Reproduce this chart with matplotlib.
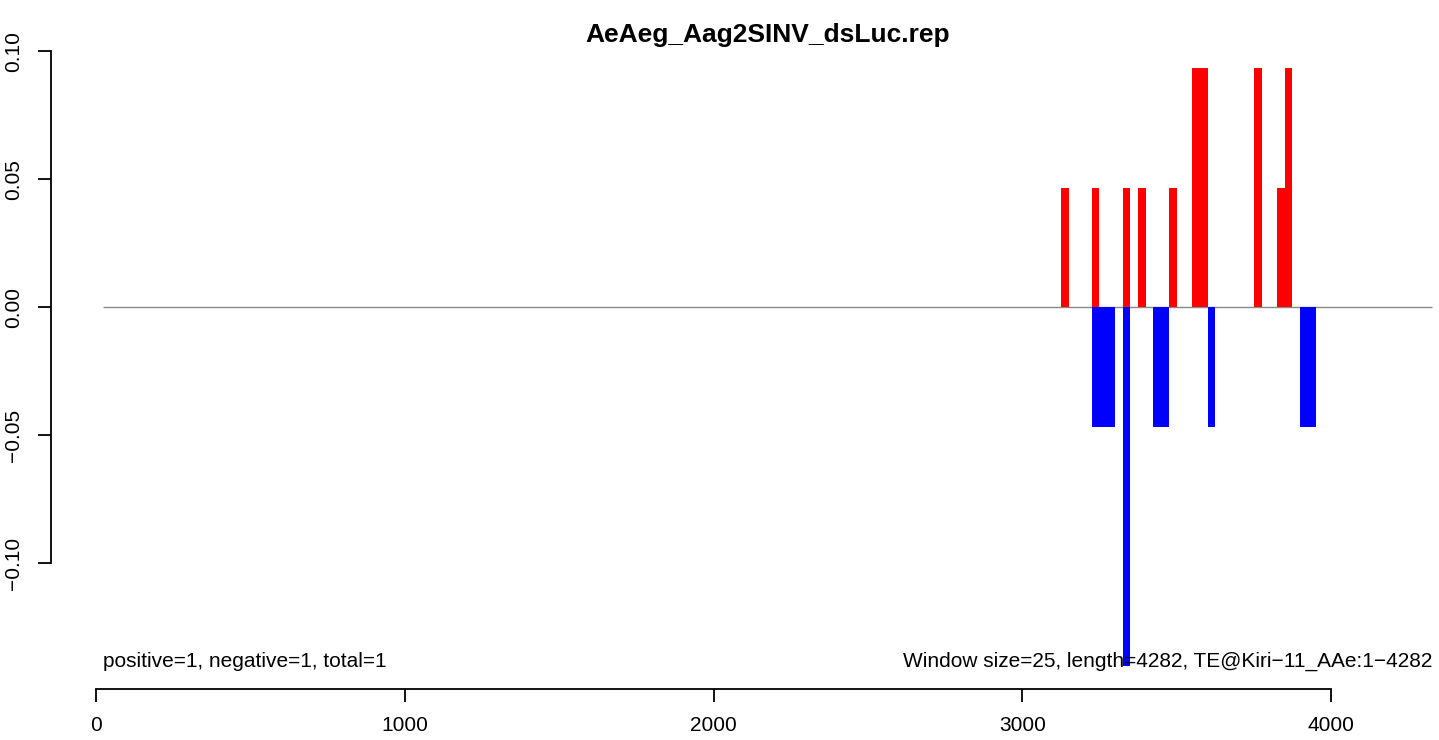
import matplotlib
matplotlib.use("Agg")
import matplotlib.pyplot as plt

plt.rcParams['font.family'] = ['Liberation Sans', 'DejaVu Sans']

title = "AeAeg_Aag2SINV_dsLuc.rep"
window = 25
# positive strand windows (start positions) and values
pos_starts = [3125, 3225, 3325, 3375, 3475, 3550, 3575, 3750, 3825, 3850]
pos_values = [0.0467, 0.0467, 0.0467, 0.0467, 0.0467, 0.0934, 0.0934, 0.0934, 0.0467, 0.0934]
# negative strand windows
neg_starts = [3225, 3250, 3275, 3325, 3425, 3450, 3600, 3900, 3925]
neg_values = [-0.0467, -0.0467, -0.0467, -0.14, -0.0467, -0.0467, -0.0467, -0.0467, -0.0467]
x_ticks = [0, 1000, 2000, 3000, 4000]
y_ticks = [-0.10, -0.05, 0.00, 0.05, 0.10]
y_tick_labels = ["\u22120.10", "\u22120.05", "0.00", "0.05", "0.10"]
left_text = "positive=1, negative=1, total=1"
right_text = "Window size=25, length=4282, TE@Kiri\u221211_AAe:1\u22124282"

W, H = 1439, 740
fig = plt.figure(figsize=(W / 100, H / 100), dpi=100)
ax_l, ax_r = 94.0, 1433.0
ax_t, ax_b = 40.0, 680.0
ax = fig.add_axes([ax_l / W, 1 - ax_b / H, (ax_r - ax_l) / W, (ax_b - ax_t) / H])

px_per_unit = 308.75 / 1000
x0_px = 96.0
y0_px = 307.3
px_per_y = 2560.0
line_x0 = (103.3 - x0_px) / px_per_unit
line_x1 = (1432.3 - x0_px) / px_per_unit

ax.hlines(0, line_x0, line_x1, color='#888888', lw=1.0, zorder=1)
ax.bar(pos_starts, pos_values, width=window, align='edge', color='#FF0000', linewidth=0, zorder=2)
ax.bar(neg_starts, neg_values, width=window, align='edge', color='#0000FF', linewidth=0, zorder=2)

for s in ['top', 'right']:
    ax.spines[s].set_visible(False)
ax.spines['left'].set_position(('outward', (ax_l - 50.7) * 0.72))
ax.spines['bottom'].set_position(('outward', (688.7 - ax_b) * 0.72))
ax.spines['left'].set_bounds(-0.10, 0.10)
ax.spines['bottom'].set_bounds(0, 4000)
for s in ['left', 'bottom']:
    ax.spines[s].set_linewidth(1.3)

ax.set_xticks(x_ticks)
ax.set_xticklabels([str(t) for t in x_ticks])
ax.set_yticks(y_ticks)
ax.set_yticklabels(y_tick_labels, rotation=90, va='center')
ax.tick_params(axis='both', length=9.4, width=1.3, labelsize=15, pad=10.5)

# pixel mapping (set after ticks so limits are not expanded)
ax.set_xlim((ax_l - x0_px) / px_per_unit, (ax_r - x0_px) / px_per_unit)
ax.set_ylim((y0_px - ax_b) / px_per_y, (y0_px - ax_t) / px_per_y)

fig.text((103.3 + 1432.3) / 2 / W, 1 - 41.7 / H, title, ha='center', va='baseline',
         fontsize=19, fontweight='bold')

y_txt = (y0_px - 666.5) / px_per_y
ax.text(line_x0, y_txt, left_text, ha='left', va='baseline', fontsize=15)
ax.text(line_x1, y_txt, right_text, ha='right', va='baseline', fontsize=15)

fig.savefig("out.png", dpi=100)
